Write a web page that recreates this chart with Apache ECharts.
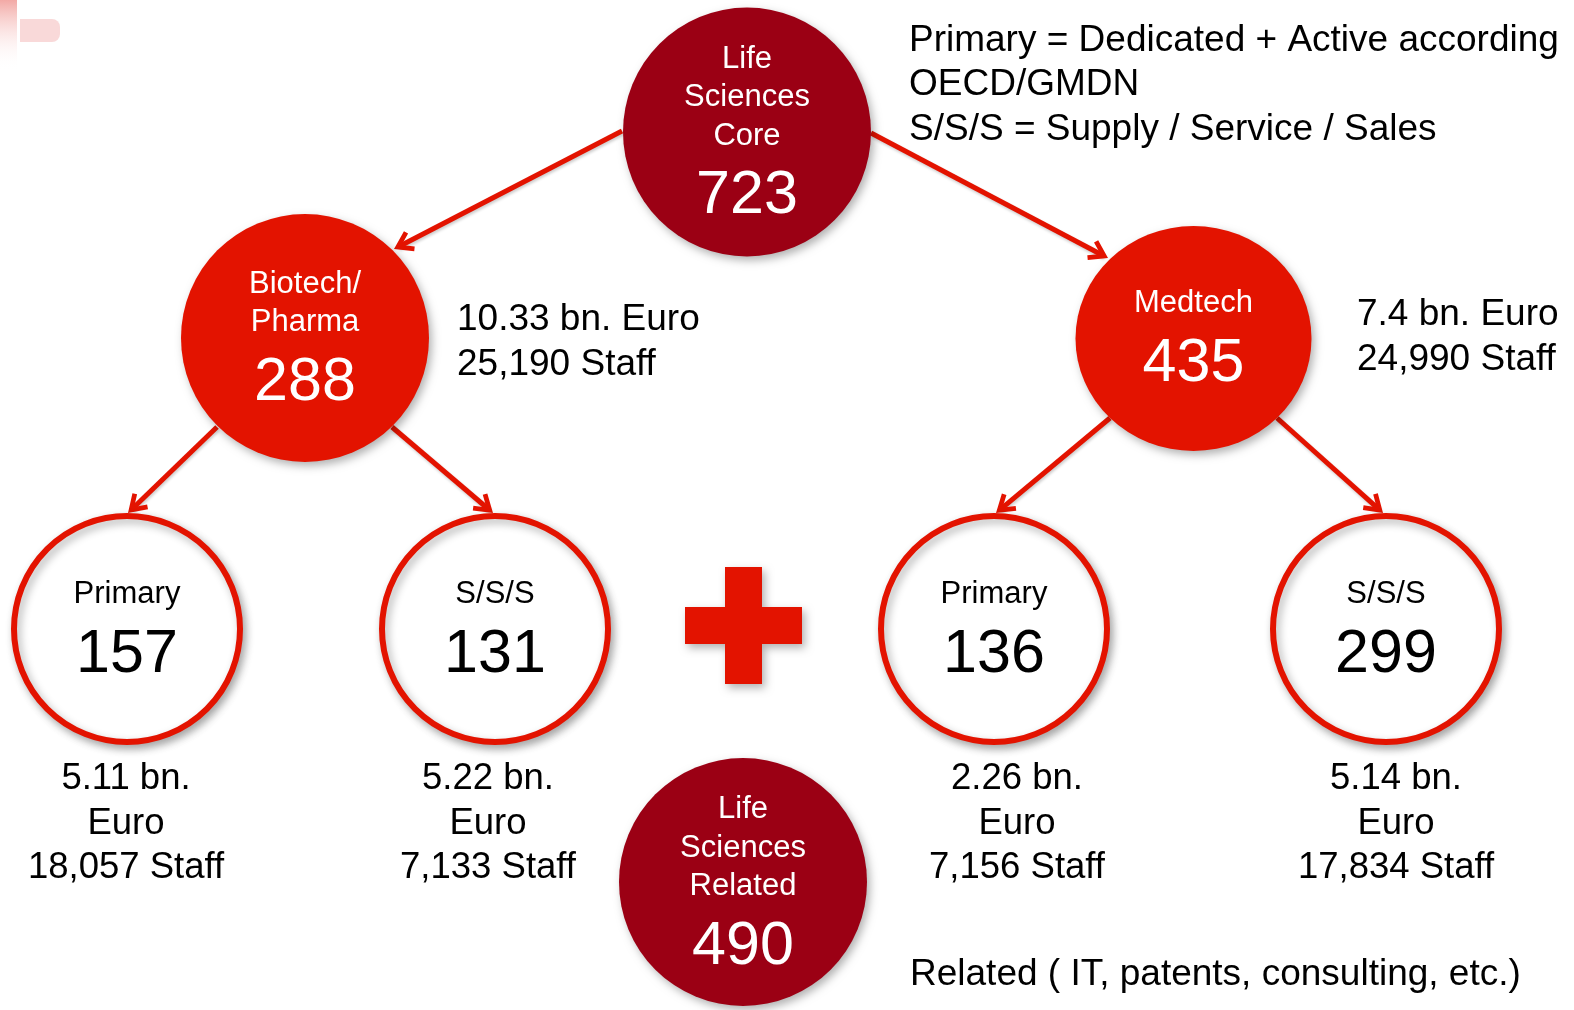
<!DOCTYPE html>
<html><head><meta charset="utf-8">
<script src="https://cdn.jsdelivr.net/npm/echarts@6/dist/echarts.min.js"></script>
<style>html,body{margin:0;padding:0;background:#fff}#c{width:1574px;height:1010px}</style>
</head><body><div id="c"></div>
<script>
// ---------------- data ----------------
const nodeWords = [['Life','Sciences','Core'], ['Biotech/','Pharma'], ['Medtech'], ['Primary'], ['S/S/S'], ['Primary'], ['S/S/S'], ['Life','Sciences','Related']];
const nodeCounts = [723, 288, 435, 157, 131, 136, 299, 490];
const sectorRevenueBn = [10.33, 7.4];      // Biotech/Pharma, Medtech
const sectorStaff = [25190, 24990];
const subRevenueBn = [5.11, 5.22, 2.26, 5.14]; // Primary, S/S/S (Biotech), Primary, S/S/S (Medtech)
const subStaff = [18057, 7133, 7156, 17834];
const legendLines = ['Primary = Dedicated + Active according', 'OECD/GMDN', 'S/S/S = Supply / Service / Sales'];
const relatedNote = 'Related ( IT, patents, consulting, etc.)';

// ---------------- layout (pixels) ----------------
const nodeX = [747, 305, 1193.5, 127, 495, 994, 1386, 743];
const nodeY = [132, 338, 338.5, 629, 629, 629, 629, 882];
const nodeDiam = [[248,249], [248,248], [236,225], [226,226], [226,226], [226,226], [226,226], [248,248]];
const nodeKind = ['dark','bright','bright','ring','ring','ring','ring','dark'];
const labelShift = [6.5, 7, 7, 7.5, 7.5, 7.5, 7.5, 7];
const linkFrom = [[622,131],[871,133],[217,427],[392,427],[1110,418],[1277,418]];
const linkTip = [[394,249],[1108,258],[128,513],[493,513],[996,513],[1383,513]];
const sectorTextPos = [[457,342],[1357,337]];
const subTextPos = [[126,823.5],[488,823.5],[1017,823.5],[1396,823.5]];
const legendPos = [909, 85];
const notePos = [910, 975];
const plusPos = [743.5, 625.5];

const F = "'Liberation Sans', Arial, sans-serif";
const RED = '#e31300';
const DARK = '#9b0014';
const SHADOW = {shadowBlur: 8, shadowOffsetX: 3, shadowOffsetY: 4, shadowColor: 'rgba(0,0,0,0.3)'};

const kindStyle = {
  dark:   {fill: DARK, border: DARK, bw: 0, text: '#fff', wl: 38.5, nl: 82},
  bright: {fill: RED, border: RED, bw: 0, text: '#fff', wl: 38, nl: 84},
  ring:   {fill: '#fff', border: RED, bw: 6, text: '#000', wl: 38, nl: 84}
};

const circleData = nodeCounts.map((v, i) => {
  const k = kindStyle[nodeKind[i]];
  return {
    value: [nodeX[i], nodeY[i], v],
    symbolSize: nodeDiam[i],
    itemStyle: Object.assign({color: k.fill, borderColor: k.border, borderWidth: k.bw, opacity: 1}, SHADOW),
    label: {
      show: true, position: 'inside', offset: [0, labelShift[i]],
      formatter: nodeWords[i].map(w => '{w|' + w + '}').join('\n') + '\n{n|' + v + '}',
      rich: {
        w: {fontSize: 31, lineHeight: k.wl, color: k.text, fontFamily: F},
        n: {fontSize: 61, lineHeight: k.nl, color: k.text, fontFamily: F}
      }
    }
  };
});

const textItems = [];
function addText(pos, lines, align, size, lh) {
  textItems.push({
    value: pos,
    label: {show: true, position: 'inside', align: align, verticalAlign: 'middle',
      formatter: lines.join('\n'), fontSize: size, lineHeight: lh, color: '#000', fontFamily: F}
  });
}
const fmt = n => n.toLocaleString('en-US');
sectorRevenueBn.forEach((r, i) => addText(sectorTextPos[i], [r + ' bn. Euro', fmt(sectorStaff[i]) + ' Staff'], 'left', 37, 45));
subRevenueBn.forEach((r, i) => addText(subTextPos[i], [r + ' bn.', 'Euro', fmt(subStaff[i]) + ' Staff'], 'center', 36.5, 44.5));
addText(legendPos, legendLines, 'left', 37, 44.5);
addText(notePos, [relatedNote], 'left', 37, 44);

// arrow line ends 5px before the tip; the chevron symbol is built so its tip sits 5px ahead of its centre
const linkEnd = linkFrom.map((p, i) => {
  const t = linkTip[i], dx = t[0] - p[0], dy = t[1] - p[1], L = Math.hypot(dx, dy);
  return [t[0] - 5 * dx / L, t[1] - 5 * dy / L];
});
const ARROW = 'path://M-3,-15L-2.99,-15L-3,-14.99ZM37,25L36.99,25L37,24.99ZM17,0L28.2,17L24.2,19.6L17,8.6L9.8,19.6L5.8,17Z';
const CROSS = 'path://M40,0H77V40H117V77H77V117H40V77H0V40H40Z';

const chart = echarts.init(document.getElementById('c'), null, {renderer: 'canvas'});
chart.setOption({
  animation: false,
  backgroundColor: '#fff',
  grid: {left: 0, right: 0, top: 0, bottom: 0},
  xAxis: {type: 'value', min: 0, max: 1574, show: false},
  yAxis: {type: 'value', min: 0, max: 1010, inverse: true, show: false},
  graphic: [
    {type: 'rect', z: -10, shape: {x: 0, y: 0, width: 17, height: 70},
      style: {fill: {type: 'linear', x: 0, y: 0, x2: 0, y2: 1, colorStops: [{offset: 0, color: 'rgba(238,140,135,0.75)'}, {offset: 1, color: 'rgba(255,255,255,0)'}]}}},
    {type: 'rect', z: -10, shape: {x: 20, y: 19, width: 40, height: 23, r: [0, 8, 8, 0]},
      style: {fill: 'rgba(244,180,180,0.5)'}}
  ],
  series: [
    {
      type: 'lines', coordinateSystem: 'cartesian2d', z: 1, silent: true,
      symbol: ['none', ARROW], symbolSize: 40,
      lineStyle: {color: RED, width: 5, opacity: 1, curveness: 0, shadowBlur: 3, shadowOffsetX: 1, shadowOffsetY: 2, shadowColor: 'rgba(0,0,0,0.2)'},
      data: linkFrom.map((p, i) => ({coords: [p, linkEnd[i]]}))
    },
    {
      type: 'scatter', z: 2, silent: true,
      symbol: CROSS, symbolSize: 117,
      itemStyle: Object.assign({color: RED, opacity: 1}, SHADOW),
      data: [plusPos]
    },
    {
      type: 'scatter', z: 3, silent: true, symbol: 'circle',
      data: circleData
    },
    {
      type: 'scatter', z: 4, silent: true, symbol: 'circle', symbolSize: 1,
      itemStyle: {color: 'rgba(0,0,0,0)', opacity: 1},
      data: textItems
    }
  ]
});
</script></body></html>
